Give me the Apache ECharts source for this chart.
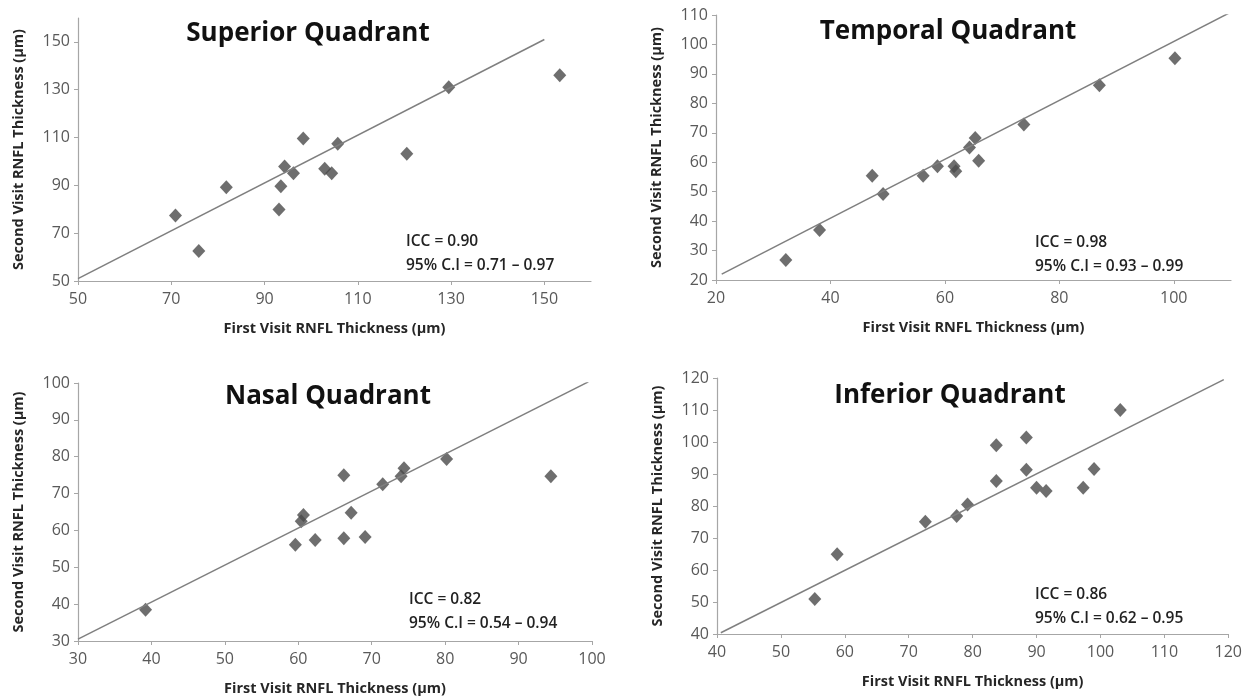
<!DOCTYPE html>
<html>
<head>
<meta charset="utf-8">
<script src="https://cdn.jsdelivr.net/npm/echarts@6/dist/echarts.min.js"></script>
<style>
  html, body { margin: 0; padding: 0; background: #fff; }
  #main { width: 1245px; height: 698px; }
</style>
</head>
<body>
<div id="main"></div>
<script>
// first visit / second visit RNFL thickness
const superiorFirst  = [70.9, 75.9, 81.8, 93.1, 93.5, 94.3, 96.2, 98.3, 102.9, 104.4, 105.7, 120.5, 129.5, 153.3];
const superiorSecond = [77.4, 62.5, 89.2, 79.9, 89.6, 97.9, 95.1, 109.6, 96.9, 95.1, 107.4, 103.2, 131.0, 136.1];

const temporalFirst  = [32.2, 38.1, 47.3, 49.2, 56.2, 58.7, 61.6, 61.9, 64.3, 65.3, 65.9, 73.8, 87.0, 100.2];
const temporalSecond = [26.8, 37.0, 55.4, 49.2, 55.4, 58.6, 58.6, 56.9, 65.0, 68.2, 60.5, 72.8, 86.1, 95.3];

const nasalFirst  = [39.2, 59.6, 60.4, 60.7, 62.3, 66.2, 66.2, 67.2, 69.1, 71.5, 74.0, 74.4, 80.2, 94.4];
const nasalSecond = [38.5, 56.1, 62.5, 64.2, 57.4, 75.0, 57.9, 64.8, 58.2, 72.5, 74.7, 76.9, 79.4, 74.7];

const inferiorFirst  = [55.3, 58.8, 72.6, 77.5, 79.2, 83.7, 83.7, 88.4, 88.4, 90.0, 91.5, 97.3, 99.0, 103.1];
const inferiorSecond = [50.9, 64.9, 75.1, 76.9, 80.5, 87.8, 99.0, 91.3, 101.4, 85.7, 84.7, 85.7, 91.6, 110.0];

// line of equality drawn in each panel (start, end)
const superiorLine = [[50, 51], [150, 151]];
const temporalLine = [[21, 22], [110, 111]];
const nasalLine    = [[30, 30.5], [99.5, 100.3]];
const inferiorLine = [[40.6, 40.4], [119.3, 119.5]];

const titles = ["Superior Quadrant", "Temporal Quadrant", "Nasal Quadrant", "Inferior Quadrant"];
const iccText = ["ICC = 0.90", "ICC = 0.98", "ICC = 0.82", "ICC = 0.86"];
const ciText = ["95% C.I = 0.71 \u2013 0.97", "95% C.I = 0.93 \u2013 0.99", "95% C.I = 0.54 \u2013 0.94", "95% C.I = 0.62 \u2013 0.95"];

const xRanges = [[50, 160, 20], [20, 110, 20], [30, 100, 10], [40, 120, 10]];
const yRanges = [[50, 160, 20], [20, 110, 10], [30, 100, 10], [40, 120, 10]];

const panels = [
    { first: superiorFirst, second: superiorSecond, line: superiorLine },
    { first: temporalFirst, second: temporalSecond, line: temporalLine },
    { first: nasalFirst, second: nasalSecond, line: nasalLine },
    { first: inferiorFirst, second: inferiorSecond, line: inferiorLine }
];

const grids = [
    { left: 78, top: 18, width: 513, height: 263 },
    { left: 716, top: 15, width: 515, height: 265 },
    { left: 78, top: 383, width: 514, height: 258 },
    { left: 717, top: 378, width: 512, height: 256 }
];
const titlePos = [[303, 16], [943, 14], [323, 379], [945, 378]];
const notePos = [[406, 230], [1035, 231], [409, 588], [1035, 583]];

const fontFamily = "'Open Sans', 'Noto Sans', sans-serif";
const labelColor = "#595959";
const axisColor = "#a6a6a6";

function makeAxis(range, i, name, isY) {
    return {
        type: "value",
        gridIndex: i,
        min: range[0],
        max: range[1],
        interval: range[2],
        name: name,
        nameLocation: "middle",
        nameGap: isY ? 52 : 40,
        nameTextStyle: {
            fontFamily: fontFamily,
            fontSize: 14.5,
            fontWeight: "bold",
            color: "#262626"
        },
        axisLine: { show: true, lineStyle: { color: axisColor, width: 1.2 } },
        axisTick: { show: true, inside: false, length: 4, lineStyle: { color: axisColor } },
        splitLine: { show: false },
        axisLabel: {
            color: labelColor,
            fontFamily: fontFamily,
            fontSize: 16,
            margin: isY ? 8 : 10,
            showMaxLabel: range[1] % range[2] === range[0] % range[2]
        }
    };
}

const chart = echarts.init(document.getElementById("main"));

const option = {
    backgroundColor: "#fff",
    animation: false,
    title: [],
    grid: grids,
    xAxis: [],
    yAxis: [],
    series: []
};

panels.forEach((p, i) => {
    option.xAxis.push(makeAxis(xRanges[i], i, "First Visit RNFL Thickness (\u00b5m)", false));
    option.yAxis.push(makeAxis(yRanges[i], i, "Second Visit RNFL Thickness (\u00b5m)", true));

    option.title.push({
        text: titles[i],
        left: titlePos[i][0],
        top: titlePos[i][1],
        textAlign: "center",
        textStyle: { fontFamily: fontFamily, fontSize: 26, fontWeight: "bold", color: "#111" }
    });
    option.title.push({
        text: iccText[i] + "\n" + ciText[i],
        left: notePos[i][0],
        top: notePos[i][1],
        padding: 0,
        textStyle: { fontFamily: fontFamily, fontSize: 15.5, fontWeight: 600, color: "#222", lineHeight: 24 }
    });

    option.series.push({
        type: "line",
        xAxisIndex: i,
        yAxisIndex: i,
        data: p.line,
        showSymbol: false,
        symbol: "none",
        lineStyle: { color: "#7f7f7f", width: 1.5 },
        silent: true
    });
    option.series.push({
        type: "scatter",
        xAxisIndex: i,
        yAxisIndex: i,
        symbol: "diamond",
        symbolSize: [13, 14],
        itemStyle: { color: "#4a4a4a" },
        data: p.first.map((v, k) => [v, p.second[k]])
    });
});

chart.setOption(option);
</script>
</body>
</html>
